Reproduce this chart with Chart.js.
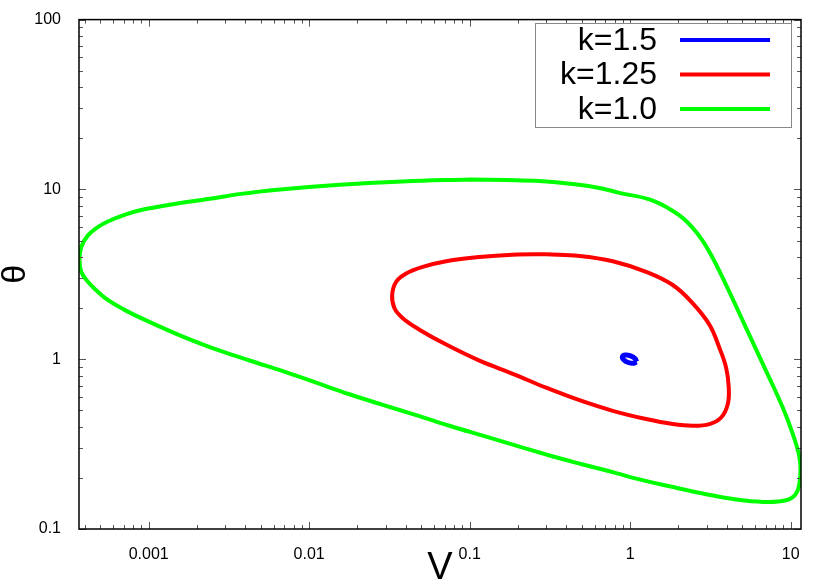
<!DOCTYPE html>
<html>
<head>
<meta charset="utf-8">
<script src="https://cdn.jsdelivr.net/npm/chart.js@4/dist/chart.umd.min.js"></script>
<style>
  html, body { margin: 0; padding: 0; background: #fff; }
  #wrap { width: 830px; height: 581px; }
</style>
</head>
<body>
<div id="wrap"><canvas id="c"></canvas></div>
<script>
// tick labels
const xTicks = [0.001, 0.01, 0.1, 1, 10]
const yTicks = [0.1, 1, 10, 100]

// k=1.0 orbit (V, theta), starting on top, going clockwise
const greenV = [0.0997, 0.1688, 0.2722, 0.4388, 0.6437, 0.8577, 1.383, 2.028, 2.578, 3.120, 3.964, 5.281, 7.037, 8.929, 10.31, 11.34, 11.46, 10.82, 9.376, 6.703, 4.575, 2.834, 1.757, 1.090, 0.818, 0.5067, 0.3142, 0.1949, 0.1207, 0.0748, 0.0464, 0.02875, 0.01783, 0.01105, 0.006847, 0.004246, 0.002334, 0.001448, 0.000898, 0.000707, 0.000556, 0.000482, 0.000418, 0.000380, 0.000371, 0.000380, 0.000418, 0.000482, 0.000556, 0.000707, 0.000898, 0.001448, 0.002334, 0.003770, 0.006077, 0.01473, 0.03814, 0.0997]
const greenT = [11.44, 11.36, 11.21, 10.77, 10.20, 9.54, 8.59, 7.02, 5.61, 4.28, 2.734, 1.524, 0.851, 0.519, 0.3627, 0.2648, 0.2022, 0.1617, 0.1477, 0.1444, 0.1492, 0.1617, 0.1784, 0.1979, 0.2135, 0.2399, 0.2709, 0.3100, 0.3546, 0.4057, 0.4687, 0.5383, 0.6216, 0.7270, 0.851, 0.9826, 1.191, 1.425, 1.744, 1.952, 2.234, 2.499, 2.858, 3.271, 3.880, 4.580, 5.361, 5.996, 6.473, 7.074, 7.566, 8.204, 8.776, 9.412, 9.933, 10.62, 11.14, 11.44]

// k=1.25 orbit
const redV = [0.2996, 0.4831, 0.7792, 1.258, 1.843, 2.455, 3.120, 3.601, 3.964, 4.115, 4.056, 3.690, 3.120, 2.455, 1.843, 1.258, 0.7792, 0.4831, 0.2996, 0.1856, 0.1151, 0.07139, 0.04866, 0.03830, 0.03400, 0.03289, 0.03484, 0.04021, 0.05102, 0.07139, 0.1151, 0.1856, 0.2996]
const redT = [4.151, 4.056, 3.777, 3.271, 2.734, 2.134, 1.596, 1.164, 0.8894, 0.6795, 0.5433, 0.4536, 0.4150, 0.4057, 0.4150, 0.4440, 0.4965, 0.5734, 0.6795, 0.8204, 0.9800, 1.219, 1.492, 1.744, 1.995, 2.390, 2.858, 3.197, 3.499, 3.777, 4.002, 4.128, 4.151]

// k=1.5 orbit (tiny loop around 1,1)
const blueV = [1.0954, 1.0504, 0.9731, 0.9107, 0.8949, 0.9331, 1.0072, 1.0763, 1.0954]
const blueT = [0.9660, 0.9458, 0.9565, 0.9930, 1.0352, 1.0573, 1.0453, 1.0070, 0.9660]

const labels = ['k=1.5', 'k=1.25', 'k=1.0']
const colors = ['#0000ff', '#ff0000', '#00ff00']
const widths = [5, 4, 4]

const toPts = (xs, ys) => xs.map((x, i) => ({ x, y: ys[i] }))
const series = [toPts(blueV, blueT), toPts(redV, redT), toPts(greenV, greenT)]

const minorMult = [2, 3, 4, 5, 6, 7, 8, 9]
const FONT = '"Liberation Sans", Arial, sans-serif'

// gnuplot-like frame with inward ticks on all four sides, plus the key box
const framePlugin = {
  id: 'frame',
  afterDraw(chart) {
    const { ctx, chartArea: a, scales } = chart
    const xs = scales.x, ys = scales.y
    ctx.save()
    ctx.strokeStyle = '#555'
    ctx.lineWidth = 1
    const seg = (x1, y1, x2, y2) => { ctx.beginPath(); ctx.moveTo(x1, y1); ctx.lineTo(x2, y2); ctx.stroke() }
    for (let e = -4; e <= 1; e++) {
      const base = Math.pow(10, e)
      ;[1, ...minorMult].forEach(m => {
        const v = base * m
        if (v < xs.min || v > xs.max) return
        const px = Math.round(xs.getPixelForValue(v)) + 0.5
        const len = m === 1 ? 7 : 4
        seg(px, a.bottom, px, a.bottom - len)
        seg(px, a.top, px, a.top + len)
      })
    }
    for (let e = -1; e <= 2; e++) {
      const base = Math.pow(10, e)
      ;[1, ...minorMult].forEach(m => {
        const v = base * m
        if (v < ys.min || v > ys.max) return
        const py = Math.round(ys.getPixelForValue(v)) + 0.5
        const len = m === 1 ? 7 : 4
        seg(a.left, py, a.left + len, py)
        seg(a.right, py, a.right - len, py)
      })
    }
    ctx.strokeStyle = '#000'
    ctx.lineWidth = 1.5
    ctx.strokeRect(a.left, a.top, a.right - a.left, a.bottom - a.top)

    // key: text right aligned, sample line on the right
    const bx = 535, by = 23, bw = 256, bh = 104
    ctx.fillStyle = '#fff'
    ctx.fillRect(bx, by, bw, bh)
    ctx.strokeStyle = '#888'
    ctx.lineWidth = 1
    ctx.strokeRect(bx + 0.5, by + 0.5, bw, bh)
    ctx.font = '32px ' + FONT
    ctx.textAlign = 'right'
    ctx.textBaseline = 'middle'
    chart.data.datasets.forEach((ds, i) => {
      const cy = 40 + i * 34.5
      ctx.fillStyle = '#000'
      ctx.fillText(ds.label, 657, cy + 1)
      ctx.strokeStyle = ds.borderColor
      ctx.lineWidth = 4
      seg(680, cy, 770, cy)
    })
    ctx.restore()
  }
}

new Chart(document.getElementById('c'), {
  type: 'scatter',
  data: {
    datasets: series.map((pts, i) => ({
      label: labels[i],
      data: pts,
      showLine: true,
      borderColor: colors[i],
      backgroundColor: colors[i],
      borderWidth: widths[i],
      borderJoinStyle: 'round',
      pointRadius: 0,
      tension: 0.4,
    })),
  },
  options: {
    responsive: true,
    maintainAspectRatio: false,
    animation: false,
    layout: { padding: { top: 16, right: 29, left: 0, bottom: 0 } },
    plugins: { legend: { display: false }, tooltip: { enabled: false } },
    scales: {
      x: {
        type: 'logarithmic',
        min: 0.000368,
        max: 11.6,
        afterBuildTicks: s => { s.ticks = xTicks.map(v => ({ value: v })) },
        afterFit: s => { s.height = 52 },
        grid: { display: false },
        border: { display: false },
        ticks: {
          autoSkip: false,
          maxRotation: 0,
          padding: 8,
          color: '#000',
          font: { family: FONT, size: 16 },
          callback: v => String(v),
        },
        title: {
          display: true,
          text: 'V',
          color: '#000',
          padding: 0,
          font: { family: FONT, size: 38, lineHeight: 0.68 },
        },
      },
      y: {
        type: 'logarithmic',
        min: 0.1,
        max: 100,
        afterBuildTicks: s => { s.ticks = yTicks.map(v => ({ value: v })) },
        afterFit: s => { s.width = 79 },
        grid: { display: false },
        border: { display: false },
        ticks: {
          autoSkip: false,
          padding: 10,
          color: '#000',
          font: { family: FONT, size: 16 },
          callback: v => String(v),
        },
        title: {
          display: true,
          text: 'θ',
          color: '#000',
          padding: 0,
          font: { family: FONT, size: 34, lineHeight: 0.9 },
        },
      },
    },
  },
  plugins: [framePlugin],
})
</script>
</body>
</html>
